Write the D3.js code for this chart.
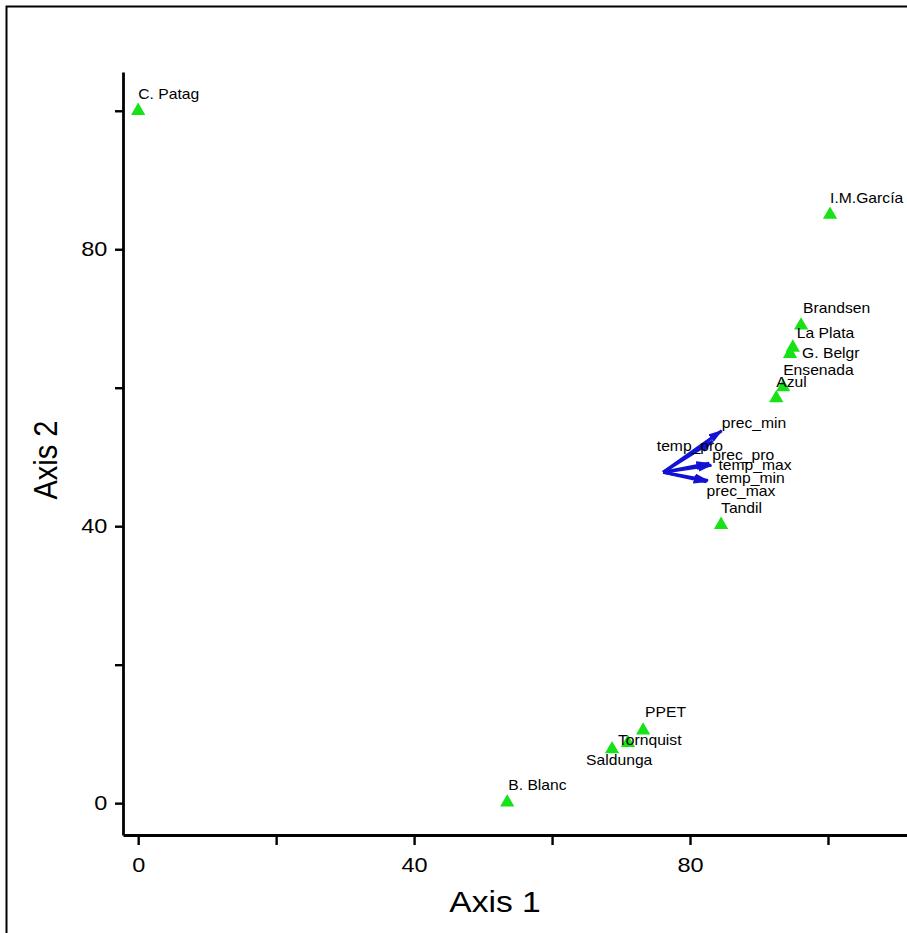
<!DOCTYPE html>
<html><head><meta charset="utf-8">
<script src="https://cdn.jsdelivr.net/npm/d3@7"></script>
<style>html,body{margin:0;padding:0;background:#fff;overflow:hidden}</style>
</head><body><svg id="c" width="907" height="933"></svg>
<script>
// ---- data ----
const sites = ["C. Patag","I.M.García","Brandsen","La Plata","G. Belgr","Ensenada","Azul","Tandil","PPET","Tornquist","Saldunga","B. Blanc"];
const axis1 = [0, 100.3, 96.1, 94.9, 94.5, 93.5, 92.5, 84.5, 73.2, 71.0, 68.7, 53.5];
const axis2 = [100, 85.0, 69.0, 65.8, 64.9, 60.1, 58.5, 40.2, 10.5, 8.7, 7.8, 0.1];
const vars = ["prec_min","temp_pro","prec_pro","temp_max","temp_min","prec_max"];
const vecOrigin = [76.1, 47.8];
const vecX = [84.6, 83.3, 82.8, 83.1, 82.6, 82.4];
const vecY = [53.8, 52.3, 49.1, 48.8, 46.6, 46.4];
const tickValues = [0, 20, 40, 60, 80, 100];
const tickLabels = ["0", "", "40", "", "80", ""];
const xTitle = "Axis 1", yTitle = "Axis 2";

// ---- layout (label nudges in px) ----
const siteNudge = [[0,-12],[0,-12],[2,-12],[4,-10],[12,4],[0,-12],[0,-11],[0,-12],[2,-13],[-10,2],[-26,16],[1,-12]];
const varNudge = [[0,-3],[-56,10],[3,-3],[7,5],[8,2],[0,14]];

const SX = 1.12; // horizontal stretch of the text in the reference
const svg = d3.select("#c");
const FONT = "Arial, 'Liberation Sans', sans-serif";
const x = d3.scaleLinear().domain([-2.2, 111.6]).range([123, 908]);
const y = d3.scaleLinear().domain([-4.6, 105.6]).range([835, 72]);

svg.append("rect").attr("x",6.5).attr("y",6.5).attr("width",1000).attr("height",1000)
  .attr("fill","none").attr("stroke","#000").attr("stroke-width",2);

const gx = svg.append("g").attr("transform","translate(0,835)")
  .call(d3.axisBottom(x).tickValues(tickValues).tickSize(10).tickSizeOuter(0).tickPadding(12)
    .tickFormat((d,i)=>tickLabels[i]));
const gy = svg.append("g").attr("transform","translate(123,0)")
  .call(d3.axisLeft(y).tickValues(tickValues).tickSize(8).tickSizeOuter(0).tickPadding(6)
    .tickFormat((d,i)=>tickLabels[i]));
[gx, gy].forEach(g=>{
  g.select(".domain").attr("stroke","#000").attr("stroke-width",2.8);
  g.selectAll(".tick line").attr("stroke","#000").attr("stroke-width",2.4);
  g.selectAll(".tick text").attr("font-family",FONT).attr("font-size",21).attr("fill","#000")
    .attr("transform",`scale(${SX},1)`);
});

svg.append("text").attr("transform",`translate(495,912) scale(${SX},1)`).attr("text-anchor","middle")
  .attr("font-family",FONT).attr("font-size",30).text(xTitle);
svg.append("text").attr("transform","translate(57,460) rotate(-90) scale(1,1.12)").attr("text-anchor","middle")
  .attr("font-family",FONT).attr("font-size",29).text(yTitle);

// arrows
const blue = "#1212d4";
svg.append("defs").append("marker").attr("id","ah").attr("viewBox","0 0 14 9")
  .attr("refX",13).attr("refY",4.5).attr("markerWidth",14).attr("markerHeight",9)
  .attr("markerUnits","userSpaceOnUse").attr("orient","auto")
  .append("path").attr("d","M0,0L14,4.5L0,9Z").attr("fill",blue);
vars.forEach((v,i)=>{
  svg.append("line").attr("x1",x(vecOrigin[0])).attr("y1",y(vecOrigin[1]))
    .attr("x2",x(vecX[i])).attr("y2",y(vecY[i]))
    .attr("stroke",blue).attr("stroke-width",3).attr("marker-end","url(#ah)");
});

// points
const tri = d3.symbol().type(d3.symbolTriangle).size(88);
sites.forEach((s,i)=>{
  svg.append("path").attr("d",tri()).attr("transform",`translate(${x(axis1[i])},${y(axis2[i])})`)
    .attr("fill","#16e216");
});
sites.forEach((s,i)=>{
  svg.append("text")
    .attr("transform",`translate(${x(axis1[i])+siteNudge[i][0]},${y(axis2[i])+siteNudge[i][1]}) scale(${SX},1)`)
    .attr("font-family",FONT).attr("font-size",14).attr("fill","#000").text(s);
});
vars.forEach((v,i)=>{
  svg.append("text")
    .attr("transform",`translate(${x(vecX[i])+varNudge[i][0]},${y(vecY[i])+varNudge[i][1]}) scale(${SX},1)`)
    .attr("font-family",FONT).attr("font-size",14).attr("fill","#000").text(v);
});
</script></body></html>
